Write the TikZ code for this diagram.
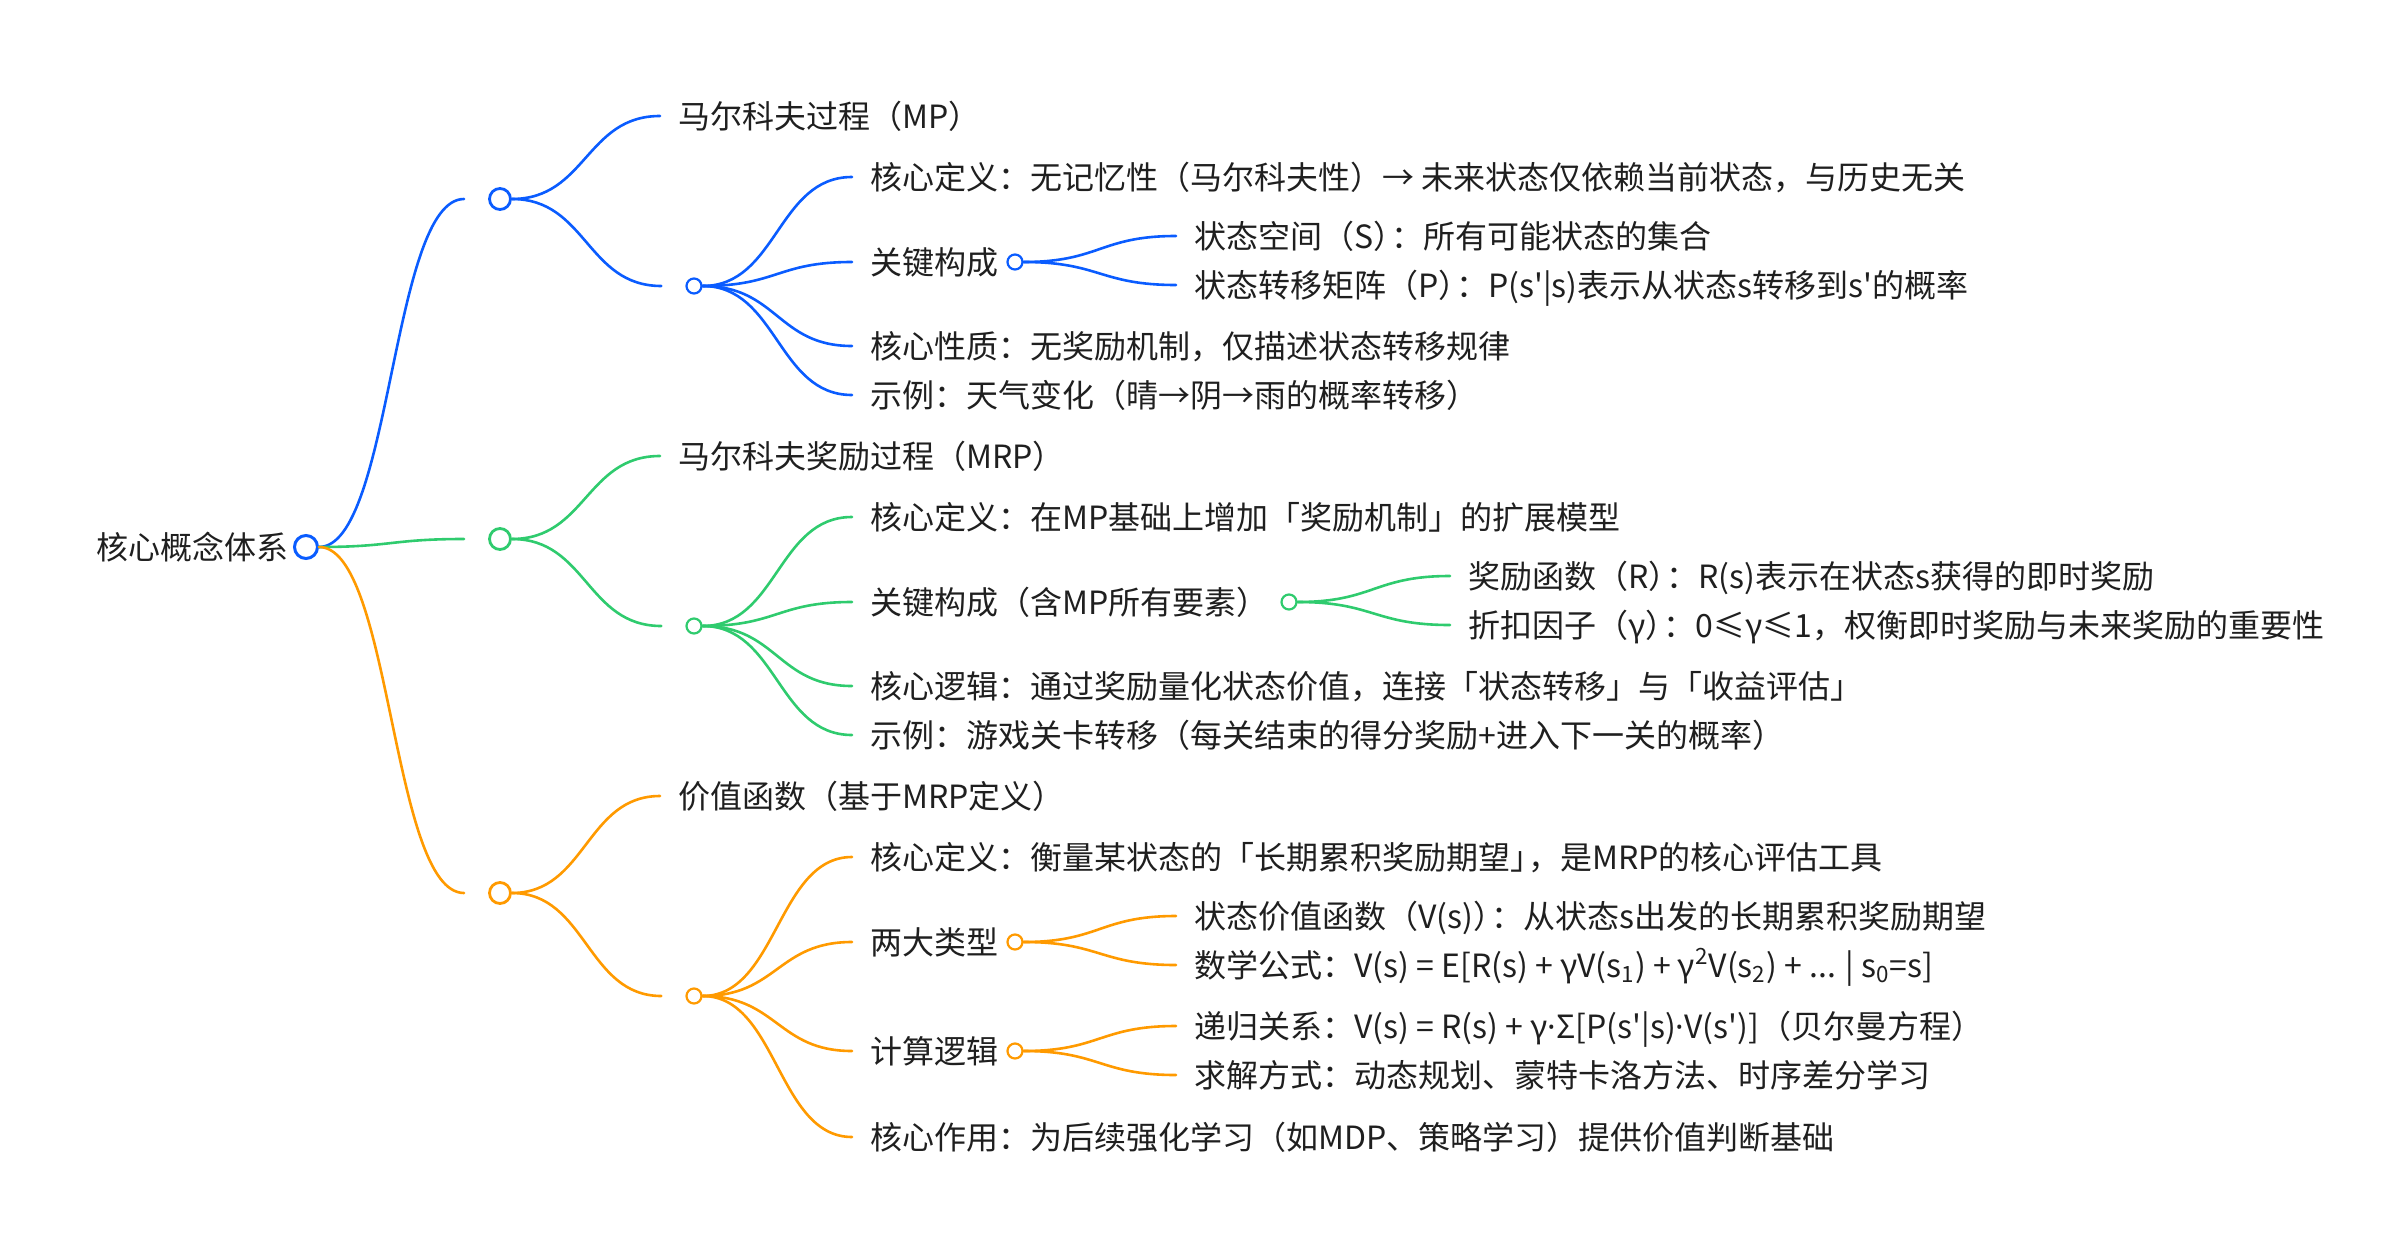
\documentclass[tikz,border=0pt]{standalone}
\usepackage{fontspec}
\newfontfamily\cjk{Noto Sans CJK SC}
\newfontfamily\latin{Noto Sans}
\usepackage{tikz}
\usetikzlibrary{calc,positioning}
\definecolor{mpblue}{HTML}{0A5CFF}
\definecolor{mrpgreen}{HTML}{2FCB6E}
\definecolor{vforange}{HTML}{FF9A00}
\colorlet{tone}{mpblue}
\newcommand\pk{\kern-.45em}% squeeze two full-width punctuation marks
\newcommand\md{{\latin ·}}
\tikzset{
  txt/.style={anchor=west, font=\cjk\fontsize{16pt}{19pt}\selectfont, text=black!88,
    inner xsep=9pt, inner ysep=0pt, text height=14pt, text depth=2pt},
  dot/.style={circle, draw=tone, fill=white, inner sep=0pt, minimum size=7.5pt, line width=1.1pt},
  hub/.style={dot, minimum size=10.5pt, line width=1.4pt},
  link/.style={draw=tone, line width=1.3pt, line cap=round,
    to path={let \p1=(\tikztostart), \p2=(\tikztotarget) in
      (\p1) .. controls ({(\x1+\x2)/2},\y1) and ({(\x1+\x2)/2},\y2) .. (\p2)}}}
\begin{document}
\begin{tikzpicture}[x=0.5pt, y=-0.5pt]
  \useasboundingbox (0,0) rectangle (2402,1252);
  % root
  \node[dot, minimum size=11.5pt, line width=1.5pt, draw=mpblue] (root) at (306,547) {};
  \node[txt, anchor=east, inner xsep=2pt] (roott) at (root.west) {核心概念体系};

  % MP
  \begin{scope}
    \colorlet{tone}{mpblue}
    \node[hub] (mp) at (500,199) {};
    \node[txt] (mpt) at (660,116) {马尔科夫过程（MP）};
    \node[dot] (mps) at (694,286) {};
    \node[txt] (mpdef) at (852,177) {核心定义：无记忆性（马尔科夫性）→ 未来状态仅依赖当前状态，与历史无关};
    \node[txt] (mpkey) at (852,262) {关键构成};
    \node[dot] (mpkeyd) at (1015,262) {};
    \node[txt] (mpsp) at (1176,236) {状态空间（S）\pk：所有可能状态的集合};
    \node[txt] (mptr) at (1176,285) {状态转移矩阵（P）\pk：P(s'|s)表示从状态s转移到s'的概率};
    \node[txt] (mpprop) at (852,346) {核心性质：无奖励机制，仅描述状态转移规律};
    \node[txt] (mpex) at (852,395) {示例：天气变化（晴→阴→雨的概率转移）};
    \draw[link] (root.east) to ([xshift=-12pt]mp.west);
    \draw[link] (mp.east) to (mpt.west);
    \draw[link] (mp.east) to ([xshift=-12pt]mps.west);
    \foreach \t in {mpdef,mpkey,mpprop,mpex} \draw[link] (mps.east) to (\t.west);
    \foreach \t in {mpsp,mptr} \draw[link] (mpkeyd.east) to (\t.west);
  \end{scope}

  % MRP
  \begin{scope}
    \colorlet{tone}{mrpgreen}
    \node[hub] (mrp) at (500,539) {};
    \node[txt] (mrpt) at (660,456) {马尔科夫奖励过程（MRP）};
    \node[dot] (mrps) at (694,626) {};
    \node[txt] (mrpdef) at (852,517) {核心定义：在MP基础上增加「奖励机制」的扩展模型};
    \node[txt] (mrpkey) at (852,602) {关键构成（含MP所有要素）};
    \node[dot] (mrpkeyd) at (1289,602) {};
    \node[txt] (mrprw) at (1450,576) {奖励函数（R）\pk：R(s)表示在状态s获得的即时奖励};
    \node[txt] (mrpgm) at (1450,625) {折扣因子（γ）\pk：0≤γ≤1，权衡即时奖励与未来奖励的重要性};
    \node[txt] (mrplog) at (852,686) {核心逻辑：通过奖励量化状态价值，连接「状态转移」与「收益评估」};
    \node[txt] (mrpex) at (852,735) {示例：游戏关卡转移（每关结束的得分奖励+进入下一关的概率）};
    \draw[link] (root.east) to ([xshift=-12pt]mrp.west);
    \draw[link] (mrp.east) to (mrpt.west);
    \draw[link] (mrp.east) to ([xshift=-12pt]mrps.west);
    \foreach \t in {mrpdef,mrpkey,mrplog,mrpex} \draw[link] (mrps.east) to (\t.west);
    \foreach \t in {mrprw,mrpgm} \draw[link] (mrpkeyd.east) to (\t.west);
  \end{scope}

  % value function
  \begin{scope}
    \colorlet{tone}{vforange}
    \node[hub] (vf) at (500,893) {};
    \node[txt] (vft) at (660,796) {价值函数（基于MRP定义）};
    \node[dot] (vfs) at (694,996) {};
    \node[txt] (vfdef) at (852,857) {核心定义：衡量某状态的「长期累积奖励期望」\pk，是MRP的核心评估工具};
    \node[txt] (vftype) at (852,942) {两大类型};
    \node[dot] (vftyped) at (1015,942) {};
    \node[txt] (vfstate) at (1176,916) {状态价值函数（V(s)）\pk：从状态s出发的长期累积奖励期望};
    \node[txt] (vfform) at (1176,965) {数学公式：V(s) = E[R(s) + γV(s\textsubscript{1}) + γ\textsuperscript{2}V(s\textsubscript{2}) + ... | s\textsubscript{0}=s]};
    \node[txt] (vfcalc) at (852,1051) {计算逻辑};
    \node[dot] (vfcalcd) at (1015,1051) {};
    \node[txt] (vfrec) at (1176,1026) {递归关系：V(s) = R(s) + γ\md Σ[P(s'|s)\md V(s')]（贝尔曼方程）};
    \node[txt] (vfsol) at (1176,1075) {求解方式：动态规划、蒙特卡洛方法、时序差分学习};
    \node[txt] (vfuse) at (852,1137) {核心作用：为后续强化学习（如MDP、策略学习）提供价值判断基础};
    \draw[link] (root.east) to ([xshift=-12pt]vf.west);
    \draw[link] (vf.east) to (vft.west);
    \draw[link] (vf.east) to ([xshift=-12pt]vfs.west);
    \foreach \t in {vfdef,vftype,vfcalc,vfuse} \draw[link] (vfs.east) to (\t.west);
    \foreach \t in {vfstate,vfform} \draw[link] (vftyped.east) to (\t.west);
    \foreach \t in {vfrec,vfsol} \draw[link] (vfcalcd.east) to (\t.west);
  \end{scope}
\end{tikzpicture}
\end{document}
